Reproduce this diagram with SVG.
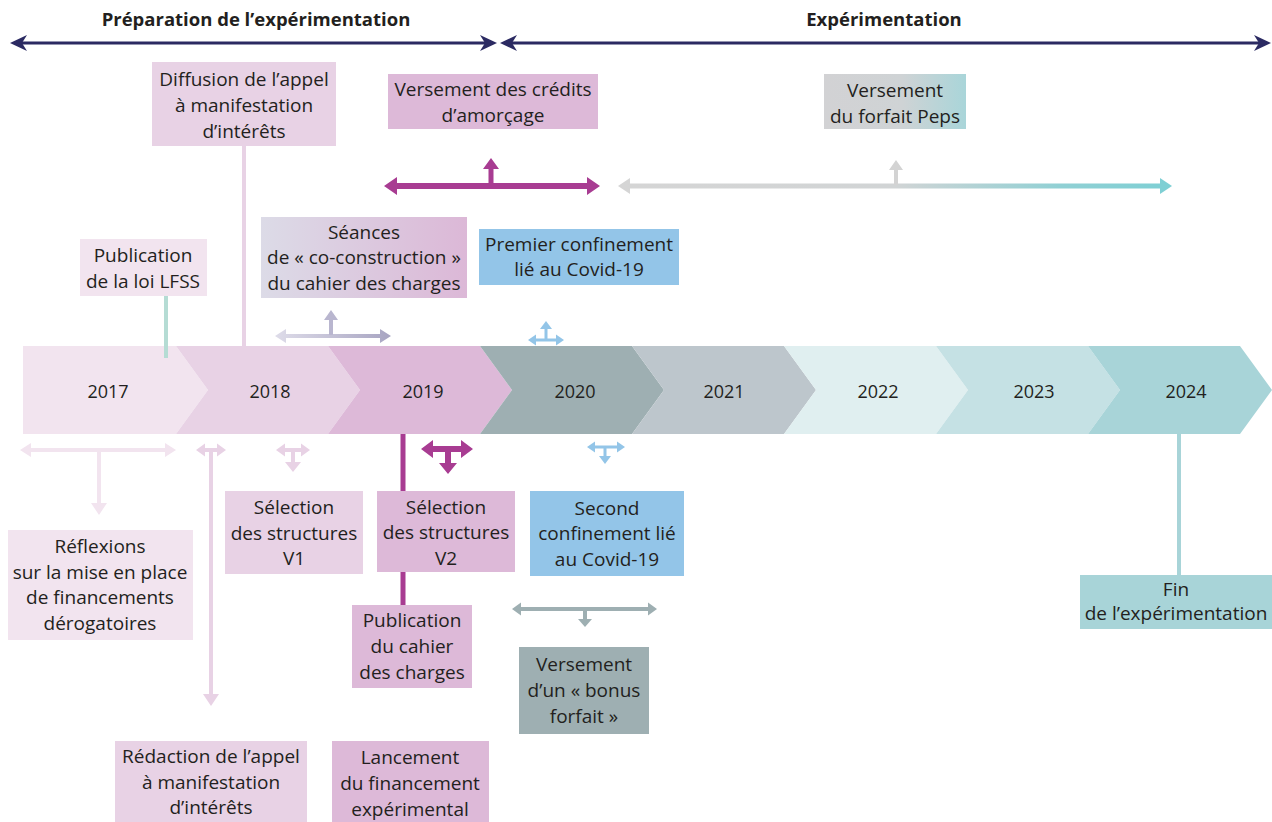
<svg xmlns="http://www.w3.org/2000/svg" width="1272" height="822" viewBox="0 0 1272 822">
<defs>
<linearGradient id="gSeances" x1="0" y1="0" x2="1" y2="0"><stop offset="0" stop-color="#dcdbe7"/><stop offset="1" stop-color="#dcb8d7"/></linearGradient>
<linearGradient id="gPeps" x1="0" y1="0" x2="1" y2="0"><stop offset="0" stop-color="#d2d2d4"/><stop offset="0.55" stop-color="#cfd3d5"/><stop offset="1" stop-color="#a9d5d9"/></linearGradient>
<linearGradient id="gPepsArrow" gradientUnits="userSpaceOnUse" x1="618" y1="0" x2="1172" y2="0"><stop offset="0" stop-color="#d5d5d5"/><stop offset="0.5" stop-color="#d1d4d5"/><stop offset="0.8" stop-color="#90d0d4"/><stop offset="1" stop-color="#7dcfd4"/></linearGradient>
<linearGradient id="gLav" gradientUnits="userSpaceOnUse" x1="275" y1="0" x2="391" y2="0"><stop offset="0" stop-color="#dedce9"/><stop offset="1" stop-color="#a8a5c2"/></linearGradient>
</defs>
<style>
text{font-family:"Open Sans","Noto Sans","Liberation Sans",sans-serif;font-size:19px;fill:#231f20;text-anchor:middle}
.title{font-weight:bold;font-size:18.5px}
.year{font-size:18px}
.c17{fill:#f2e4ef}.c18{fill:#e8d2e5}.c19{fill:#ddb9d8}.c20{fill:#9eafb2}.c21{fill:#bdc6cc}.c22{fill:#e0eff0}.c23{fill:#c5e1e4}.c24{fill:#a8d4d8}
.blue{fill:#93c5e8}.mag{fill:#a83c92}.navy{fill:#2b2a62}
</style>

<g id="phases">
<text class="title" x="256" y="26">Préparation de l’expérimentation</text>
<text class="title" x="884" y="26">Expérimentation</text>
<rect class="navy" x="20" y="41.5" width="470" height="3"/>
<path class="navy" d="M10 43 L27 35 L22 43 L27 51 Z"/>
<path class="navy" d="M497 43 L480 35 L485 43 L480 51 Z"/>
<rect class="navy" x="508" y="41.5" width="752" height="3"/>
<path class="navy" d="M500 43 L517 35 L512 43 L517 51 Z"/>
<path class="navy" d="M1271 43 L1254 35 L1259 43 L1254 51 Z"/>
</g>

<g id="connectors">
<rect class="c18" x="242" y="146" width="4" height="202"/>
<path class="mag" d="M384 186 L397 177 L397 183 L587 183 L587 177 L600 186 L587 195 L587 189 L397 189 L397 195 Z"/>
<path class="mag" d="M488.5 184 L488.5 169 L483 169 L491 158 L499 169 L493.5 169 L493.5 184 Z"/>
<path fill="url(#gPepsArrow)" d="M618 186 L630 178 L630 183.5 L1160 183.5 L1160 178 L1172 186 L1160 194 L1160 188.5 L630 188.5 L630 194 Z"/>
<path fill="#d3d3d3" d="M894 185 L894 170 L889 170 L896 160 L903 170 L898 170 L898 185 Z"/>
<path fill="url(#gLav)" d="M275 336 L286 329 L286 334 L380 334 L380 329 L391 336 L380 343 L380 338 L286 338 L286 343 Z"/>
<path fill="#b9b6cf" d="M329 335 L329 320 L324 320 L331 310 L338 320 L333 320 L333 335 Z"/>
<path class="blue" d="M528 340 L536 334.5 L536 338.5 L556 338.5 L556 334.5 L564 340 L556 345.5 L556 341.5 L536 341.5 L536 345.5 Z"/>
<path class="blue" d="M544.5 339 L544.5 329 L540 329 L546 321 L552 329 L547.5 329 L547.5 339 Z"/>
<path class="c17" d="M20 450 L31 443 L31 448 L165 448 L165 443 L176 450 L165 457 L165 452 L31 452 L31 457 Z"/>
<path class="c17" d="M97 451 L97 503 L91 503 L99 515 L107 503 L101 503 L101 451 Z"/>
<path class="c18" d="M196 450 L205 443.5 L205 448 L217 448 L217 443.5 L226 450 L217 456.5 L217 452 L205 452 L205 456.5 Z"/>
<path class="c18" d="M209 450 L209 694 L203 694 L211 706 L219 694 L213 694 L213 450 Z"/>
<path class="c18" d="M276 450 L285 443.5 L285 448 L301 448 L301 443.5 L310 450 L301 456.5 L301 452 L285 452 L285 456.5 Z"/>
<path class="c18" d="M291 451 L291 462 L285 462 L293 472 L301 462 L295 462 L295 451 Z"/>
<rect class="mag" x="400.5" y="434" width="5" height="171"/>
<path class="mag" d="M421 449 L433 440 L433 446 L461 446 L461 440 L473 449 L461 458 L461 452 L433 452 L433 458 Z"/>
<path class="mag" d="M445 451 L445 463 L439 463 L448 474 L457 463 L451 463 L451 451 Z"/>
<path class="blue" d="M587 447 L595 441.5 L595 445.5 L617 445.5 L617 441.5 L625 447 L617 452.5 L617 448.5 L595 448.5 L595 452.5 Z"/>
<path class="blue" d="M603.5 448 L603.5 456 L599 456 L605 464 L611 456 L606.5 456 L606.5 448 Z"/>
<path class="c20" d="M512 609 L521 602.5 L521 607 L648 607 L648 602.5 L657 609 L648 615.5 L648 611 L521 611 L521 615.5 Z"/>
<path class="c20" d="M583 610 L583 619 L578 619 L585 627 L592 619 L587 619 L587 610 Z"/>
<rect class="c24" x="1177" y="434" width="4" height="142"/>
</g>

<g id="timeline">
<path class="c17" d="M23 346 L176 346 L208 390 L176 434 L23 434 Z"/>
<path class="c18" d="M176 346 L328 346 L360 390 L328 434 L176 434 L208 390 Z"/>
<path class="c19" d="M328 346 L480 346 L512 390 L480 434 L328 434 L360 390 Z"/>
<path class="c20" d="M480 346 L632 346 L664 390 L632 434 L480 434 L512 390 Z"/>
<path class="c21" d="M632 346 L784 346 L816 390 L784 434 L632 434 L664 390 Z"/>
<path class="c22" d="M784 346 L936 346 L968 390 L936 434 L784 434 L816 390 Z"/>
<path class="c23" d="M936 346 L1088 346 L1120 390 L1088 434 L936 434 L968 390 Z"/>
<path class="c24" d="M1088 346 L1240 346 L1272 390 L1240 434 L1088 434 L1120 390 Z"/>
<text class="year" x="108" y="398">2017</text>
<text class="year" x="270" y="398">2018</text>
<text class="year" x="423" y="398">2019</text>
<text class="year" x="575" y="398">2020</text>
<text class="year" x="724" y="398">2021</text>
<text class="year" x="878" y="398">2022</text>
<text class="year" x="1034" y="398">2023</text>
<text class="year" x="1186" y="398">2024</text>
<rect fill="#b5dcd4" x="164" y="296" width="4" height="62"/>
</g>

<g id="n-diffusion"><rect class="c18" x="152" y="62" width="184" height="84"/>
<text><tspan x="244" y="86">Diffusion de l’appel</tspan><tspan x="244" y="112">à manifestation</tspan><tspan x="244" y="138">d’intérêts</tspan></text></g>

<g id="n-credits"><rect class="c19" x="388" y="74" width="210" height="55"/>
<text><tspan x="493" y="96">Versement des crédits</tspan><tspan x="493" y="122">d’amorçage</tspan></text></g>

<g id="n-peps"><rect fill="url(#gPeps)" x="824" y="74" width="142" height="55"/>
<text><tspan x="895" y="97">Versement</tspan><tspan x="895" y="123">du forfait Peps</tspan></text></g>

<g id="n-lfss"><rect class="c17" x="80" y="239" width="127" height="57"/>
<text><tspan x="143" y="262">Publication</tspan><tspan x="143" y="288">de la loi LFSS</tspan></text></g>

<g id="n-seances"><rect fill="url(#gSeances)" x="261" y="217" width="206" height="81"/>
<text><tspan x="364" y="239">Séances</tspan><tspan x="364" y="264">de « co-construction »</tspan><tspan x="364" y="290">du cahier des charges</tspan></text></g>

<g id="n-premier"><rect class="blue" x="479" y="229" width="200" height="56"/>
<text><tspan x="579" y="251">Premier confinement</tspan><tspan x="579" y="276">lié au Covid-19</tspan></text></g>

<g id="n-reflexions"><rect class="c17" x="8" y="530" width="185" height="110"/>
<text><tspan x="100" y="553">Réflexions</tspan><tspan x="100" y="579">sur la mise en place</tspan><tspan x="100" y="604">de financements</tspan><tspan x="100" y="630">dérogatoires</tspan></text></g>

<g id="n-v1"><rect class="c18" x="225" y="491" width="138" height="83"/>
<text><tspan x="294" y="514">Sélection</tspan><tspan x="294" y="540">des structures</tspan><tspan x="294" y="565">V1</tspan></text></g>

<g id="n-v2"><rect class="c19" x="377" y="491" width="138" height="81"/>
<text><tspan x="446" y="514">Sélection</tspan><tspan x="446" y="539">des structures</tspan><tspan x="446" y="565">V2</tspan></text></g>

<g id="n-second"><rect class="blue" x="530" y="491" width="154" height="85"/>
<text><tspan x="607" y="515">Second</tspan><tspan x="607" y="540">confinement lié</tspan><tspan x="607" y="566">au Covid-19</tspan></text></g>

<g id="n-publication"><rect class="c19" x="352" y="605" width="120" height="83"/>
<text><tspan x="412" y="627">Publication</tspan><tspan x="412" y="653">du cahier</tspan><tspan x="412" y="679">des charges</tspan></text></g>

<g id="n-bonus"><rect class="c20" x="519" y="647" width="130" height="87"/>
<text><tspan x="584" y="671">Versement</tspan><tspan x="584" y="697">d’un « bonus</tspan><tspan x="584" y="723">forfait »</tspan></text></g>

<g id="n-redaction"><rect class="c18" x="115" y="741" width="192" height="81"/>
<text><tspan x="211" y="763">Rédaction de l’appel</tspan><tspan x="211" y="789">à manifestation</tspan><tspan x="211" y="814">d’intérêts</tspan></text></g>

<g id="n-lancement"><rect class="c19" x="332" y="741" width="157" height="81"/>
<text><tspan x="410" y="764">Lancement</tspan><tspan x="410" y="790">du financement</tspan><tspan x="410" y="816">expérimental</tspan></text></g>

<g id="n-fin"><rect class="c24" x="1080" y="575" width="192" height="54"/>
<text><tspan x="1176" y="596">Fin</tspan><tspan x="1176" y="620">de l’expérimentation</tspan></text></g>
</svg>
